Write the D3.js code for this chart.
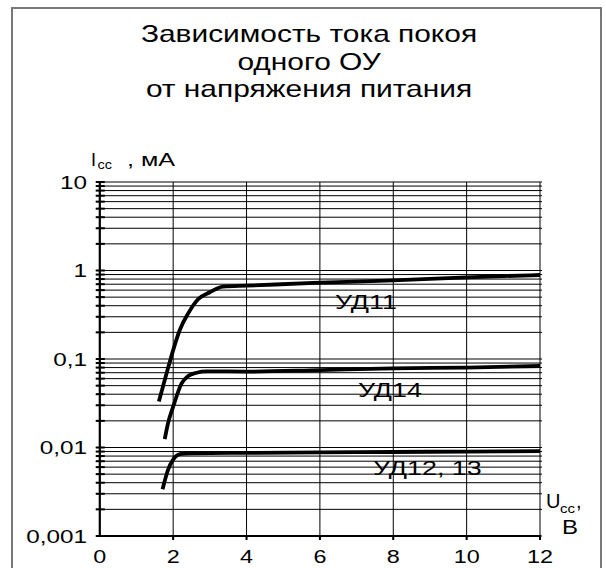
<!DOCTYPE html>
<html lang="ru">
<head>
    <meta charset="utf-8">
    <title>Зависимость тока покоя одного ОУ от напряжения питания</title>
    <script type="text/javascript" src="https://d3js.org/d3.v7.min.js"></script>
    <style>
        body { margin: 0; background: #fff; }
        text { font-family: "Liberation Sans", Arial, sans-serif; fill: #000; }
    </style>
</head>
<body>
    <div id="chart"></div>

    <script type="text/javascript">

        // Title lines
        var titleLines = ["Зависимость тока покоя", "одного ОУ", "от напряжения питания"];

        // Axis ticks
        var voltTicks = [0, 2, 4, 6, 8, 10, 12];
        var currTicks = [0.001, 0.01, 0.1, 1, 10];
        var currTickLabels = ["0,001", "0,01", "0,1", "1", "10"];

        // Curves: supply voltage (V) and quiescent current (mA)
        var ud11Volt = [1.61, 1.86, 2.0, 2.18, 2.41, 2.68, 3.0, 3.36, 4, 6, 8, 10, 12];
        var ud11Curr = [0.033, 0.079, 0.126, 0.213, 0.328, 0.473, 0.567, 0.657, 0.673, 0.728, 0.773, 0.838, 0.889];

        var ud14Volt = [1.77, 1.86, 2.0, 2.23, 2.41, 2.64, 2.91, 4, 6, 8, 10, 12];
        var ud14Curr = [0.0124, 0.0188, 0.0289, 0.0531, 0.0643, 0.070, 0.0726, 0.072, 0.075, 0.0785, 0.080, 0.0834];

        var ud12Volt = [1.71, 1.86, 2.0, 2.18, 2.45, 4, 6, 8, 10, 12];
        var ud12Curr = [0.00337, 0.0056, 0.0073, 0.0084, 0.0086, 0.0087, 0.0088, 0.0089, 0.009, 0.0091];

        var curveNames = ["УД11", "УД14", "УД12, 13"];

        var width = 606, height = 568;

        var svg = d3.select("#chart").append("svg")
            .attr("width", width)
            .attr("height", height);

        // Frame round the whole picture
        svg.append("rect")
            .attr("x", 12).attr("y", 8)
            .attr("width", 589).attr("height", 600)
            .attr("fill", "none")
            .attr("stroke", "#6a6a6a")
            .attr("stroke-width", 1.8);

        var x = d3.scaleLinear().domain([0, 12]).range([99.8, 540]);
        var y = d3.scaleLog().domain([0.001, 10]).range([536, 182]);

        // helper for text; the original lettering is stretched sideways (sx)
        function label(str, px, py, size, anchor, sx) {
            return svg.append("text")
                .attr("transform", "translate(" + px + "," + py + ") scale(" + (sx || 1) + ",1)")
                .attr("text-anchor", anchor || "start")
                .style("font-size", size + "px")
                .text(str);
        }

        // Title
        titleLines.forEach(function(t, i) {
            label(t, 309, [42, 70, 97][i], 23, "middle", 1.3);
        });

        // Horizontal grid (every log tick)
        var grid = svg.append("g").attr("stroke", "#000").attr("stroke-width", 1);
        grid.selectAll("line.h")
            .data(y.ticks())
            .enter().append("line")
            .attr("class", "h")
            .attr("x1", x(0) - 4)
            .attr("x2", x(12) + 2)
            .attr("y1", function(d) { return y(d); })
            .attr("y2", function(d) { return y(d); });

        // Vertical grid
        grid.selectAll("line.v")
            .data(voltTicks.slice(1))
            .enter().append("line")
            .attr("class", "v")
            .attr("x1", function(d) { return x(d); })
            .attr("x2", function(d) { return x(d); })
            .attr("y1", y(10))
            .attr("y2", y(0.001) + 4);

        // Axes
        svg.append("line")
            .attr("x1", x(0)).attr("x2", x(0))
            .attr("y1", y(10) - 1).attr("y2", y(0.001))
            .attr("stroke", "#000").attr("stroke-width", 2.2);
        svg.append("line")
            .attr("x1", x(0) - 1).attr("x2", x(12) + 1)
            .attr("y1", y(0.001)).attr("y2", y(0.001))
            .attr("stroke", "#000").attr("stroke-width", 2.2);

        // Tick marks on the y axis
        svg.append("g").selectAll("line")
            .data(y.ticks())
            .enter().append("line")
            .attr("x1", x(0) - 4).attr("x2", x(0) + 5)
            .attr("y1", function(d) { return y(d); })
            .attr("y2", function(d) { return y(d); })
            .attr("stroke", "#000").attr("stroke-width", 2);

        // Tick marks on the x axis
        svg.append("g").selectAll("line")
            .data(voltTicks.slice(1))
            .enter().append("line")
            .attr("x1", function(d) { return x(d); })
            .attr("x2", function(d) { return x(d); })
            .attr("y1", y(0.001)).attr("y2", y(0.001) + 4)
            .attr("stroke", "#000").attr("stroke-width", 2);

        // Tick labels
        currTicks.forEach(function(d, i) {
            label(currTickLabels[i], 87, y(d) + 6.5, 18, "end", 1.35);
        });
        voltTicks.forEach(function(d) {
            label(d, x(d), 563, 18, "middle", 1.3);
        });

        // Axis titles
        label("I", 91, 166, 18);
        label("cc", 97.5, 168.5, 12, "start", 1.2);
        label(", мА", 127, 166, 18, "start", 1.4);

        label("U", 546, 508, 20);
        label("cc", 560, 513, 12, "start", 1.25);
        label(",", 576, 508, 20);
        label("В", 562, 534, 20, "start", 1.2);

        // Curves
        var line = d3.line()
            .x(function(d) { return x(d[0]); })
            .y(function(d) { return y(d[1]); })
            .curve(d3.curveMonotoneX);

        var curves = [
            d3.zip(ud11Volt, ud11Curr),
            d3.zip(ud14Volt, ud14Curr),
            d3.zip(ud12Volt, ud12Curr)
        ];

        svg.append("g").selectAll("path")
            .data(curves)
            .enter().append("path")
            .attr("d", line)
            .attr("fill", "none")
            .attr("stroke", "#000")
            .attr("stroke-width", 3.8)
            .attr("stroke-linecap", "butt");

        // Curve names
        label(curveNames[0], 335, 309, 21, "start", 1.28);
        label(curveNames[1], 358, 397, 21, "start", 1.28);
        label(curveNames[2], 373, 475, 21, "start", 1.28);

    </script>
</body>
</html>
